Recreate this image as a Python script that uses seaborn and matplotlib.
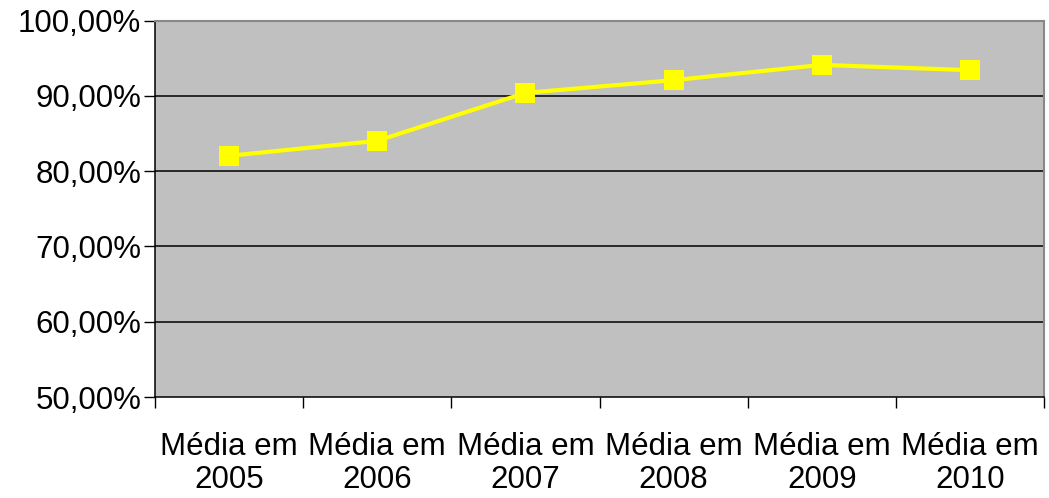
import matplotlib
matplotlib.use("Agg")
import matplotlib.pyplot as plt
from matplotlib.ticker import FuncFormatter, FixedLocator
import seaborn as sns
import pandas as pd

# Data
categories = ["Média em\n2005", "Média em\n2006", "Média em\n2007",
              "Média em\n2008", "Média em\n2009", "Média em\n2010"]
values = [82.05, 84.04, 90.41, 92.10, 94.13, 93.43]

df = pd.DataFrame({"pos": range(len(categories)), "valor": values})

sns.set_style("white")
plt.rcParams["font.family"] = ["Liberation Sans", "DejaVu Sans"]
plt.rcParams["text.color"] = "black"
plt.rcParams["xtick.color"] = "black"
plt.rcParams["ytick.color"] = "black"

fig = plt.figure(figsize=(10.49, 4.98), dpi=100)
ax = fig.add_axes([0.1478, 0.2028, 0.8474, 0.7556])
ax.set_facecolor("#C0C0C0")

# gridlines
for v in [60, 70, 80, 90]:
    ax.axhline(v, color="black", lw=1.1, zorder=1)

sns.lineplot(data=df, x="pos", y="valor", ax=ax, color="#FFFF00",
             linewidth=3, marker="s", markersize=14.5, markeredgewidth=0,
             zorder=3)

ax.set_xlim(-0.5, len(categories) - 0.5)
ax.set_ylim(50, 100)
ax.set_yticks([50, 60, 70, 80, 90, 100])
ax.yaxis.set_major_formatter(FuncFormatter(lambda v, p: f"{v:.2f}".replace(".", ",") + "%"))

ax.set_xticks(range(len(categories)))
ax.set_xticklabels(categories, linespacing=1.15)
ax.xaxis.set_minor_locator(FixedLocator([i - 0.5 for i in range(len(categories) + 1)]))
ax.tick_params(axis="x", which="major", length=0, pad=25, labelsize=22.5, labelcolor="black")
ax.tick_params(axis="x", which="minor", length=8, width=1, color="black", direction="out")
ax.tick_params(axis="y", which="major", length=8, width=1, color="black", direction="out",
               labelsize=22.5, pad=2, labelcolor="black")
ax.tick_params(bottom=True, left=True)
ax.xaxis.set_tick_params(which="minor", bottom=True)

ax.set_xlabel("")
ax.set_ylabel("")

for side in ["left", "bottom"]:
    ax.spines[side].set_color("black")
    ax.spines[side].set_linewidth(1.1)
for side in ["top", "right"]:
    ax.spines[side].set_color("#888888")
    ax.spines[side].set_linewidth(1.5)

fig.savefig("out.png", dpi=100)
